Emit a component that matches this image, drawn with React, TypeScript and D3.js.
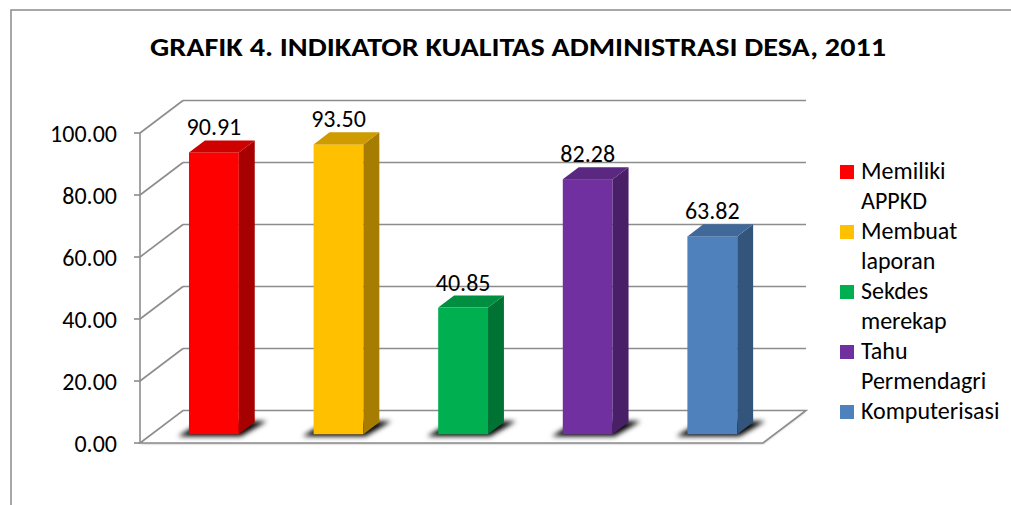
import * as d3 from "d3";

const title = "GRAFIK 4. INDIKATOR KUALITAS ADMINISTRASI DESA, 2011";
const categories = ["Memiliki APPKD", "Membuat laporan", "Sekdes merekap", "Tahu Permendagri", "Komputerisasi"];
const values = [90.91, 93.5, 40.85, 82.28, 63.82];
const colors = ["#FF0000", "#FFC000", "#00B050", "#7030A0", "#4F81BD"];
const legendLines = [["Memiliki", "APPKD"], ["Membuat", "laporan"], ["Sekdes", "merekap"], ["Tahu", "Permendagri"], ["Komputerisasi"]];
const yTicks = [0, 20, 40, 60, 80, 100];

const FONT = "Carlito, Lato, sans-serif";
const W = 1011;
const H = 505;

// oblique 3d: depth offset of back wall
const DX = 43;
const DY = -32.5;
const Z0 = 0.27;
const Z1 = 0.64;

export default function App() {
  const x = d3
    .scaleBand<string>()
    .domain(categories)
    .range([140, 763])
    .paddingInner(0.6)
    .paddingOuter(0.3);
  const y = d3.scaleLinear().domain([0, 100]).range([443, 133]);
  const fmt = d3.format(".2f");
  const bw = x.bandwidth();

  const pts = (p: number[][]) => p.map((d) => d.join(",")).join(" ");

  const floor = pts([
    [x.range()[0], y(0)],
    [x.range()[1], y(0)],
    [x.range()[1] + DX, y(0) + DY],
    [x.range()[0] + DX, y(0) + DY],
  ]);

  // legend rows
  let row = 0;
  const legend = legendLines.map((lines, i) => {
    const r = row;
    row += lines.length;
    return { lines, i, r };
  });

  return (
    <svg width={W} height={H} style={{ position: "absolute", left: 0, top: 0, background: "#fff" }}>
      <defs>
        <filter id="shadow" x="-30%" y="-60%" width="160%" height="220%">
          <feGaussianBlur stdDeviation="2.6" />
        </filter>
        <filter id="floorShadow" x="-5%" y="-50%" width="110%" height="300%">
          <feGaussianBlur stdDeviation="1" />
        </filter>
      </defs>
      <rect x={11} y={10} width={W + 10} height={H + 10} fill="#fff" stroke="#8a8a8a" strokeWidth={1.5} />
      <text
        x={518}
        y={56}
        textAnchor="middle"
        fontFamily={FONT}
        fontWeight="bold"
        fontSize={27}
        textLength={736}
        lengthAdjust="spacingAndGlyphs"
        fill="#000"
      >
        {title}
      </text>

      {/* walls */}
      <g stroke="#8c8c8c" strokeWidth={1.6} fill="none">
        {yTicks.slice(1).map((t) => (
          <g key={t}>
            <line x1={140} y1={y(t)} x2={140 + DX} y2={y(t) + DY} />
            <line x1={140 + DX} y1={y(t) + DY} x2={763 + DX} y2={y(t) + DY} />
          </g>
        ))}
        <line x1={140} y1={y(0)} x2={140} y2={y(100)} />
        {yTicks.map((t) => (
          <line key={t} x1={134} y1={y(t)} x2={140} y2={y(t)} />
        ))}
      </g>
      <polygon points={floor} fill="#bbb" filter="url(#floorShadow)" transform="translate(0,1)" />
      <polygon points={floor} fill="#fff" stroke="#8c8c8c" strokeWidth={1.6} />

      {/* bars */}
      {categories.map((c, i) => {
        const v = values[i];
        const col = d3.color(colors[i])!;
        const x0 = x(c)! + Z0 * DX;
        const x1 = x0 + bw;
        const b0 = y(0) + Z0 * DY;
        const t0 = y(v) + Z0 * DY;
        const ddx = (Z1 - Z0) * DX;
        const ddy = (Z1 - Z0) * DY;
        const shadow = pts([
          [x0 - 11, b0 + 2],
          [x1 + 2, b0 + 2],
          [x1 + ddx + 12, b0 + ddy - 1],
          [x0 + ddx - 2, b0 + ddy - 1],
        ]);
        return (
          <g key={c}>
            <polygon points={shadow} fill="#000" filter="url(#shadow)" />
            <rect x={x0} y={t0} width={bw} height={b0 - t0} fill={colors[i]} />
            <polygon
              points={pts([[x1, t0], [x1 + ddx, t0 + ddy], [x1 + ddx, b0 + ddy], [x1, b0]])}
              fill={col.darker(1.2).formatHex()}
            />
            <polygon
              points={pts([[x0, t0], [x1, t0], [x1 + ddx, t0 + ddy], [x0 + ddx, t0 + ddy]])}
              fill={col.darker(0.6).formatHex()}
            />
            <text x={x0 + bw / 2} y={t0 - 17} textAnchor="middle" fontFamily={FONT} fontSize={24} fill="#000">
              {fmt(v)}
            </text>
          </g>
        );
      })}

      {/* y axis labels */}
      {yTicks.map((t) => (
        <text key={t} x={117} y={y(t) + 8.5} textAnchor="end" fontFamily={FONT} fontSize={24} fill="#000">
          {fmt(t)}
        </text>
      ))}

      {/* legend */}
      {legend.map(({ lines, i, r }) => (
        <g key={i}>
          <rect x={840} y={179 + r * 30 - 14} width={14} height={14} fill={colors[i]} />
          {lines.map((l, j) => (
            <text key={j} x={861} y={179 + (r + j) * 30} fontFamily={FONT} fontSize={24} fill="#000">
              {l}
            </text>
          ))}
        </g>
      ))}
    </svg>
  );
}
